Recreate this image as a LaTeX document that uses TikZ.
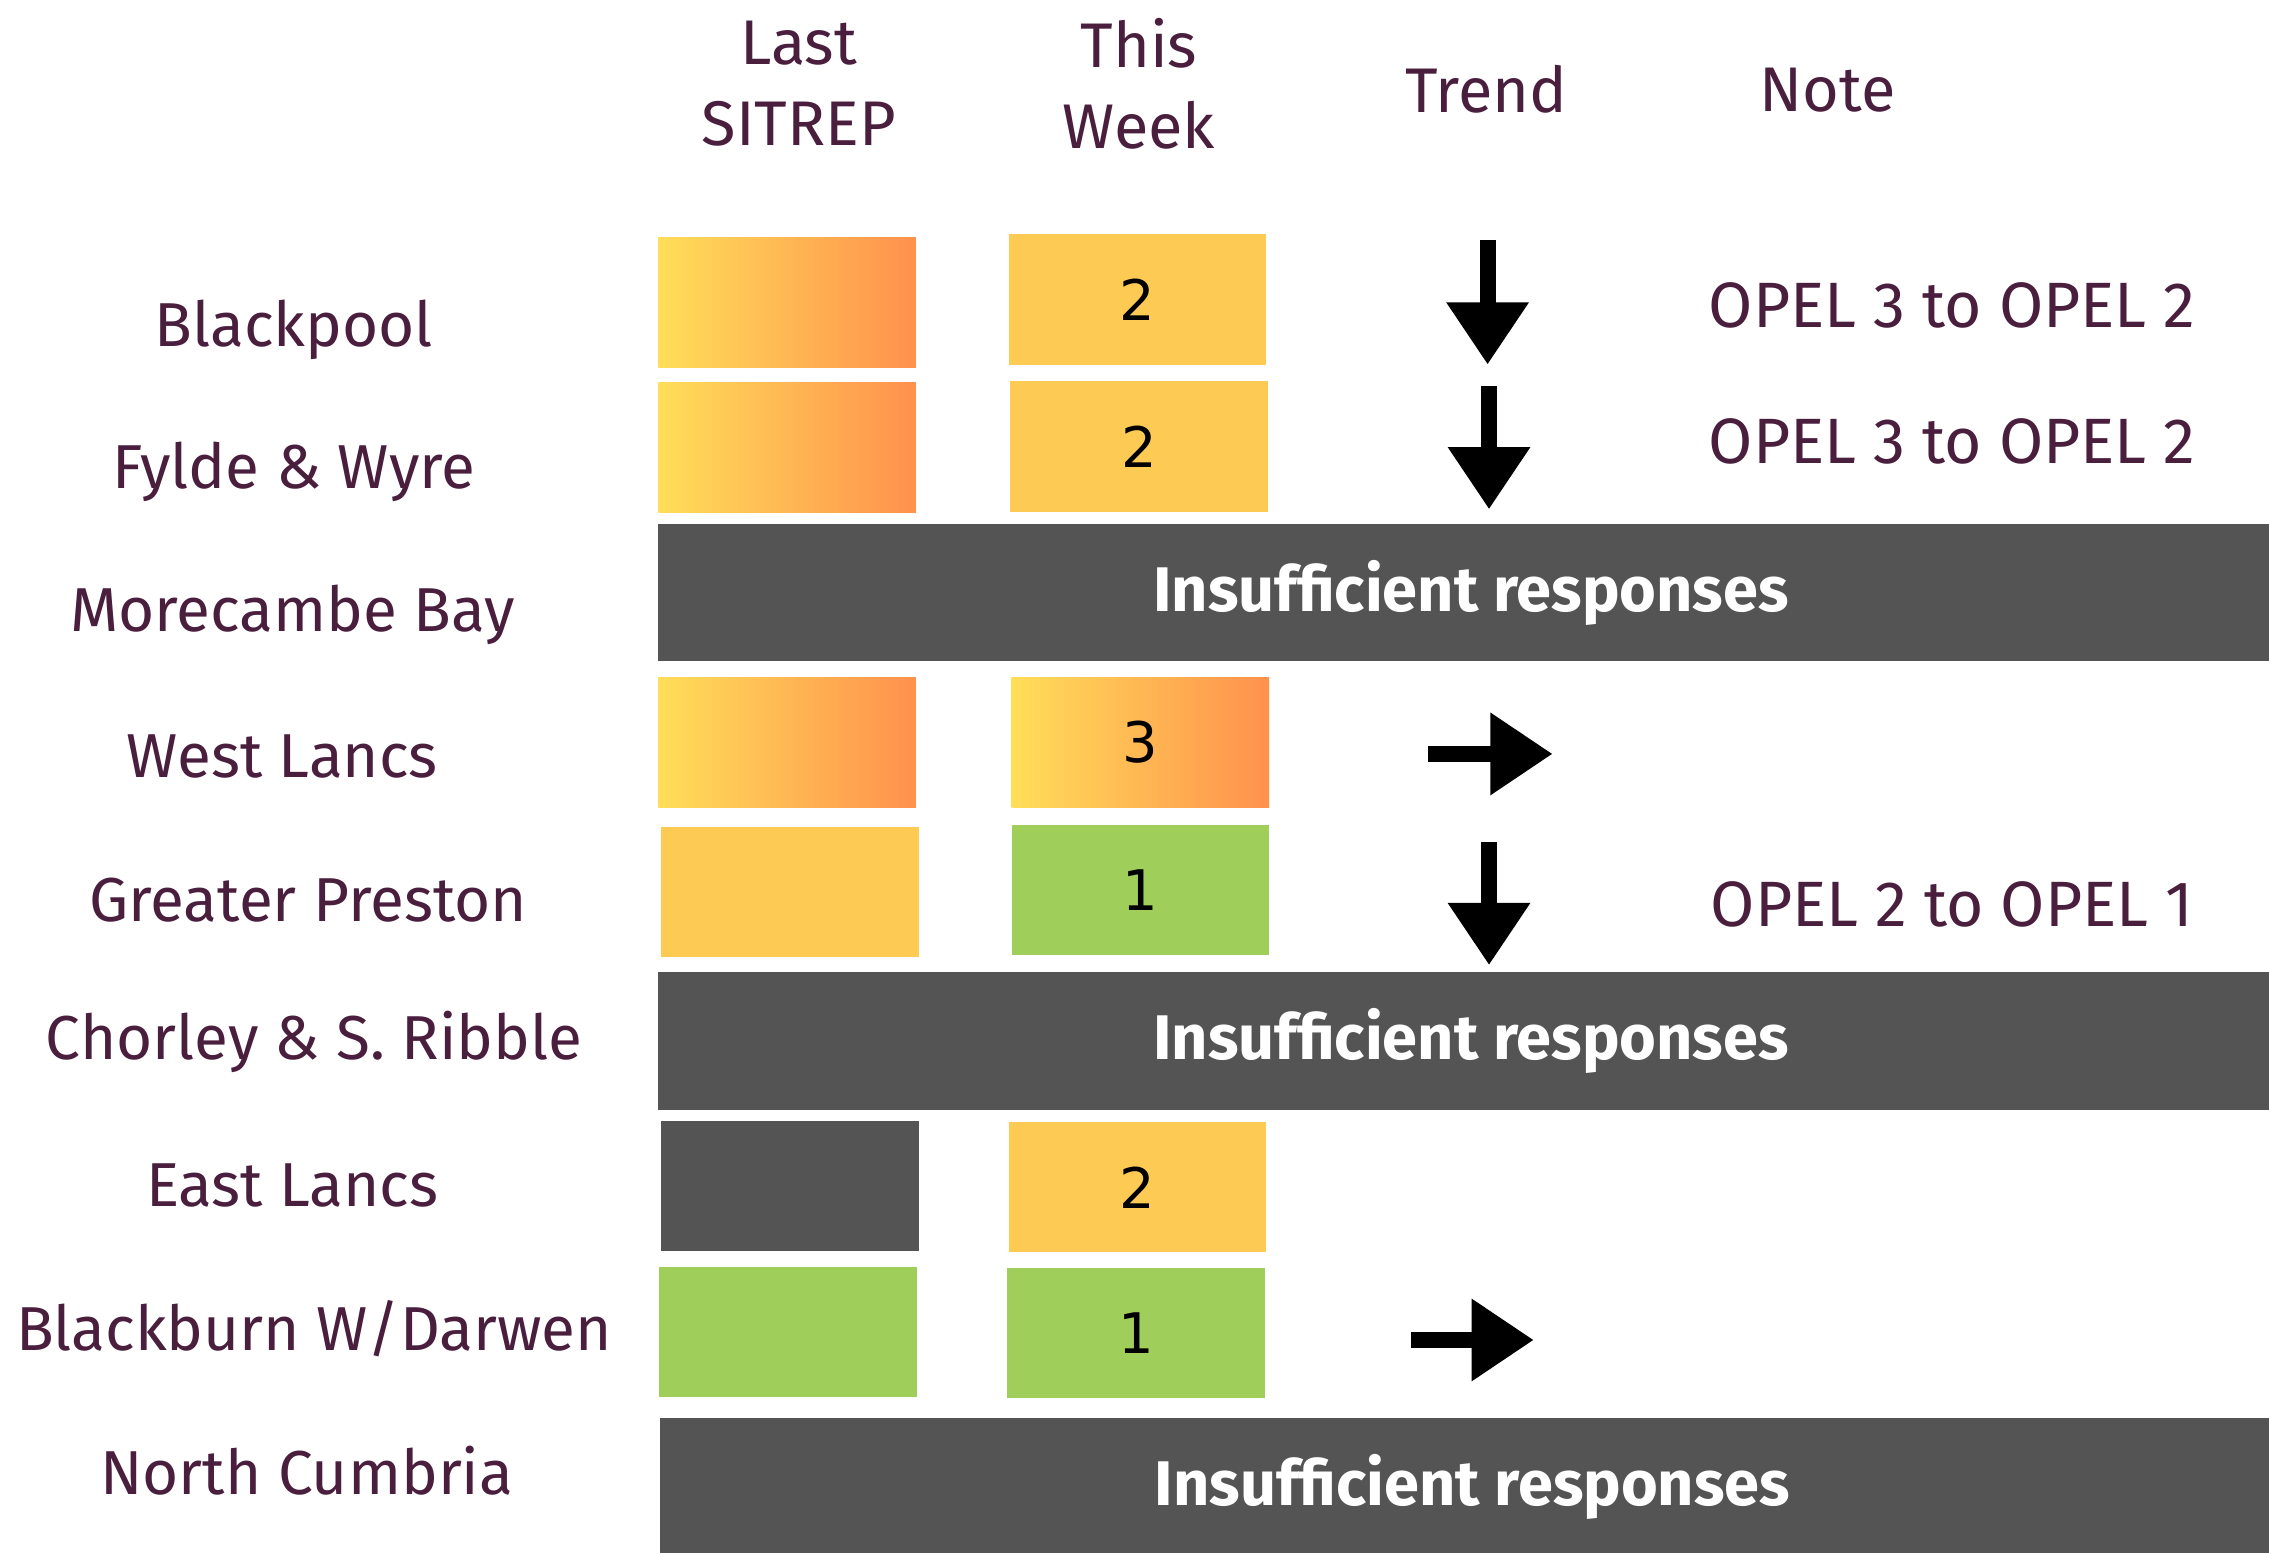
\documentclass[tikz,border=0pt]{standalone}
\usepackage{fontspec}
\setmainfont{Fira Sans}
\newfontfamily\numfont{DejaVu Sans}
\usetikzlibrary{arrows.meta}
\definecolor{plum}{RGB}{74,30,61}
\definecolor{opelgray}{RGB}{84,84,84}
\definecolor{opelyellow}{RGB}{253,203,83}
\definecolor{opelgreen}{RGB}{159,206,90}
\definecolor{gradleft}{RGB}{255,222,89}
\definecolor{gradright}{RGB}{255,145,77}
\begin{document}
\begin{tikzpicture}[x=0.1mm, y=-0.1mm,
 rowlabel/.style={text=plum, font=\fontsize{12.2}{14}\selectfont},
 header/.style={text=plum, align=center, font=\fontsize{12.4}{16}\selectfont},
 note/.style={text=plum, font=\fontsize{12.6}{14}\selectfont},
 cell/.style={rectangle, inner sep=0pt, minimum width=17.8mm, minimum height=9mm, font=\numfont\fontsize{11}{13}\selectfont},
 yellowcell/.style={cell, fill=opelyellow},
 greencell/.style={cell, fill=opelgreen},
 graycell/.style={cell, fill=opelgray},
 gradcell/.style={cell, left color=gradleft, right color=gradright},
 graybar/.style={rectangle, inner sep=0pt, fill=opelgray, minimum width=111.3mm, minimum height=9.5mm, text=white, font=\bfseries\fontsize{12.4}{14}\selectfont},
 trend/.style={line width=1.1mm, -{Triangle[length=4.3mm,width=5.4mm]}}]
\useasboundingbox[fill=white] (0,0) rectangle (1568,1073);

\node[header] (hLast) at (552,58) {Last\\SITREP};
\node[header] (hThis) at (787,58) {This\\Week};
\node[header] (hTrend) at (1027,62) {Trend};
\node[header] (hNote) at (1263,62) {Note};

\node[rowlabel] (lBlackpool) at (203,228) {Blackpool};
\node[rowlabel] (lFylde) at (203,326) {Fylde \& Wyre};
\node[rowlabel] (lMorecambe) at (202,425) {Morecambe Bay};
\node[rowlabel] (lWestLancs) at (195,523) {West Lancs};
\node[rowlabel] (lPreston) at (213,622) {Greater Preston};
\node[rowlabel] (lChorley) at (217,720) {Chorley \& S. Ribble};
\node[rowlabel] (lEastLancs) at (202,819) {East Lancs};
\node[rowlabel] (lBlackburn) at (217,918) {Blackburn W/Darwen};
\node[rowlabel] (lCumbria) at (212,1016) {North Cumbria};

\node[gradcell] (lastBlackpool) at (544,209) {};
\node[yellowcell] (thisBlackpool) at (786,207) {2};
\node[gradcell] (lastFylde) at (544,309.5) {};
\node[yellowcell] (thisFylde) at (787,308.5) {2};
\node[graybar] (barMorecambe) at (1011.5,409.5) {\hspace*{1mm}Insufficient responses};
\node[gradcell] (lastWestLancs) at (544,513) {};
\node[gradcell] (thisWestLancs) at (788,513) {3};
\node[yellowcell] (lastPreston) at (546,616.5) {};
\node[greencell] (thisPreston) at (788,615) {1};
\node[graybar] (barChorley) at (1011.5,719.5) {\hspace*{1mm}Insufficient responses};
\node[graycell] (lastEastLancs) at (546,819.5) {};
\node[yellowcell] (thisEastLancs) at (786,820.5) {2};
\node[greencell] (lastBlackburn) at (544.5,920.5) {};
\node[greencell] (thisBlackburn) at (785,921) {1};
\node[graybar] (barCumbria) at (1012.5,1027.5) {\hspace*{1mm}Insufficient responses};

\coordinate (tBlackpoolA) at (1028,166);
\coordinate (tBlackpoolB) at (1028,252);
\coordinate (tFyldeA) at (1029,267);
\coordinate (tFyldeB) at (1029,352);
\coordinate (tWestLancsA) at (987,521);
\coordinate (tWestLancsB) at (1073,521);
\coordinate (tPrestonA) at (1029,582);
\coordinate (tPrestonB) at (1029,667);
\coordinate (tBlackburnA) at (975,926);
\coordinate (tBlackburnB) at (1060,926);
\draw[trend] (tBlackpoolA) -- (tBlackpoolB);
\draw[trend] (tFyldeA) -- (tFyldeB);
\draw[trend] (tWestLancsA) -- (tWestLancsB);
\draw[trend] (tPrestonA) -- (tPrestonB);
\draw[trend] (tBlackburnA) -- (tBlackburnB);

\node[note] (nBlackpool) at (1349,211) {OPEL 3 to OPEL 2};
\node[note] (nFylde) at (1349,305) {OPEL 3 to OPEL 2};
\node[note] (nPreston) at (1349,625) {OPEL 2 to OPEL 1};
\end{tikzpicture}
\end{document}
